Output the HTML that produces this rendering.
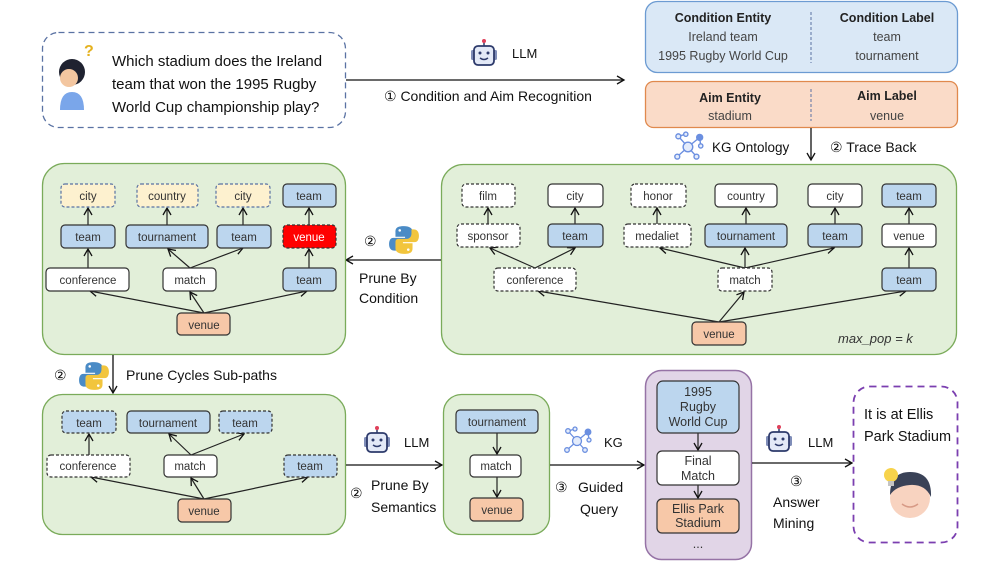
<!DOCTYPE html>
<html><head><meta charset="utf-8"><style>
html,body{margin:0;padding:0;background:#fff;}
svg{display:block;font-family:"Liberation Sans",sans-serif;}
.n{font-size:11.5px;fill:#333;text-anchor:middle;}
.l{font-size:14px;fill:#111;}
</style></head><body>
<svg width="997" height="561" viewBox="0 0 997 561" xmlns="http://www.w3.org/2000/svg">
<defs>
<marker id="a" markerWidth="10" markerHeight="10" refX="8" refY="5" orient="auto" markerUnits="userSpaceOnUse"><path d="M1,1 L8,5 L1,9" fill="none" stroke="#111" stroke-width="1.3"/></marker>
<symbol id="robot" viewBox="0 0 30 30"><line x1="15" y1="3" x2="15" y2="8" stroke="#2d3a6b" stroke-width="1.5"/><circle cx="15" cy="3" r="2" fill="#e0405a"/><rect x="2" y="12" width="4" height="10" rx="1.5" fill="#7f8db8"/><rect x="24" y="12" width="4" height="10" rx="1.5" fill="#7f8db8"/><rect x="5" y="8" width="20" height="19" rx="4" fill="#e3e9f7" stroke="#2d3a6b" stroke-width="1.8"/><circle cx="11" cy="15" r="1.5" fill="#2d3a6b"/><circle cx="19" cy="15" r="1.5" fill="#2d3a6b"/><path d="M11,20 Q15,23 19,20" stroke="#2d3a6b" fill="none" stroke-width="1.5"/></symbol>
<symbol id="py" viewBox="0 0 30 30"><path d="M15,2 C7,2 7,5 7,8 V12 H16 V13 H5 C2,13 1,16 1,19 C1,23 3,25 6,25 H8 V21 C8,18 10,16 13,16 H20 C22,16 23,15 23,13 V7 C23,4 20,2 15,2Z" fill="#4a8bc6"/><path d="M15,28 C23,28 23,25 23,22 V18 H14 V17 H25 C28,17 29,14 29,11 C29,7 27,5 24,5 H22 V9 C22,12 20,14 17,14 H10 C8,14 7,15 7,17 V23 C7,26 10,28 15,28Z" fill="#f2c53d"/><circle cx="11" cy="6" r="1.2" fill="#fff"/><circle cx="19" cy="24" r="1.2" fill="#fff"/></symbol>
<symbol id="kg" viewBox="0 0 30 30"><g stroke="#6b8fe0" stroke-width="1.3" fill="#e4ecfb"><line x1="14" y1="15" x2="5" y2="5"/><line x1="14" y1="15" x2="25" y2="6"/><line x1="14" y1="15" x2="4" y2="24"/><line x1="14" y1="15" x2="22" y2="24"/><line x1="5" y1="5" x2="12" y2="3"/><line x1="25" y1="6" x2="26" y2="14"/><circle cx="14" cy="15" r="4.5"/><circle cx="5" cy="5" r="2.3"/><circle cx="12" cy="3" r="2"/><circle cx="25" cy="6" r="2.8" fill="#6b8fe0"/><circle cx="26" cy="14" r="2"/><circle cx="4" cy="24" r="2.3"/><circle cx="22" cy="24" r="2.3"/></g></symbol>
</defs>

<!-- question -->
<rect x="42.5" y="32.5" width="303" height="95" rx="16" fill="#fff" stroke="#5a72a3" stroke-width="1.3" stroke-dasharray="6,4"/>
<circle cx="72" cy="72" r="13" fill="#1f2230"/>
<circle cx="69" cy="78" r="9" fill="#f3c6a0"/>
<path d="M60,110 Q60,92 72,92 Q84,92 84,110Z" fill="#7aa6ea"/>
<text x="84" y="56" font-size="16" fill="#e5b21f" font-weight="bold">?</text>
<text class="l" x="112" y="66" font-size="15" style="font-size:15px">Which stadium does the Ireland</text>
<text class="l" x="112" y="89" style="font-size:15px">team that won the 1995 Rugby</text>
<text class="l" x="112" y="112" style="font-size:15px">World Cup championship play?</text>

<line x1="346" y1="80" x2="624" y2="80" stroke="#111" stroke-width="1.3" marker-end="url(#a)"/>
<use href="#robot" x="469" y="38" width="30" height="30"/>
<text class="l" x="512" y="58" style="font-size:13px">LLM</text>
<text class="l" x="384" y="101">① Condition and Aim Recognition</text>

<!-- condition -->
<rect x="645.5" y="1.5" width="312" height="71" rx="12" fill="#dae8f6" stroke="#6c9bd2" stroke-width="1.3"/>
<line x1="811" y1="12" x2="811" y2="63" stroke="#5a72a3" stroke-dasharray="3,2"/>
<g text-anchor="middle" font-size="12.5" fill="#222">
<text x="723" y="22" font-weight="bold">Condition Entity</text>
<text x="887" y="22" font-weight="bold">Condition Label</text>
<text x="723" y="41" fill="#444">Ireland team</text>
<text x="723" y="60" fill="#444">1995 Rugby World Cup</text>
<text x="887" y="41" fill="#444">team</text>
<text x="887" y="60" fill="#444">tournament</text>
<rect x="645.5" y="81.5" width="312" height="46" rx="8" fill="#fadbc8" stroke="#e0894d" stroke-width="1.3"/>
<text x="730" y="102" font-weight="bold">Aim Entity</text>
<text x="887" y="100" font-weight="bold">Aim Label</text>
<text x="730" y="120" fill="#444">stadium</text>
<text x="887" y="120" fill="#444">venue</text>
</g>
<line x1="811" y1="89" x2="811" y2="121" stroke="#5a72a3" stroke-dasharray="3,2"/>
<line x1="811" y1="128" x2="811" y2="160" stroke="#111" stroke-width="1.3" marker-end="url(#a)"/>
<use href="#kg" x="673" y="131" width="32" height="32"/>
<text class="l" x="712" y="152" style="font-size:13.5px">KG Ontology</text>
<text class="l" x="830" y="152">② Trace Back</text>

<!-- right panel -->
<rect x="441.5" y="164.5" width="515" height="190" rx="22" fill="#e2efd9" stroke="#7aab5a" stroke-width="1.3"/>
<g stroke="#222" stroke-width="1.2" fill="none" marker-end="url(#a)">
<line x1="488" y1="224" x2="488" y2="208"/><line x1="575" y1="224" x2="575" y2="208"/><line x1="657" y1="224" x2="657" y2="208"/><line x1="746" y1="224" x2="746" y2="208"/><line x1="835" y1="224" x2="835" y2="208"/><line x1="909" y1="224" x2="909" y2="208"/>
<line x1="535" y1="268" x2="490" y2="248"/><line x1="535" y1="268" x2="575" y2="248"/>
<line x1="745" y1="268" x2="660" y2="248"/><line x1="745" y1="268" x2="745" y2="248"/><line x1="745" y1="268" x2="834" y2="248"/>
<line x1="909" y1="268" x2="909" y2="248"/>
<line x1="719" y1="322" x2="538" y2="291"/><line x1="719" y1="322" x2="744" y2="292"/><line x1="719" y1="322" x2="906" y2="291"/>
</g>
<g stroke="#333" stroke-width="1.2">
<rect x="462" y="184" width="53" height="23" rx="4" fill="#fff" stroke-dasharray="3,2"/>
<rect x="548" y="184" width="55" height="23" rx="4" fill="#fff"/>
<rect x="631" y="184" width="55" height="23" rx="4" fill="#fff" stroke-dasharray="3,2"/>
<rect x="715" y="184" width="62" height="23" rx="4" fill="#fff"/>
<rect x="808" y="184" width="54" height="23" rx="4" fill="#fff"/>
<rect x="882" y="184" width="54" height="23" rx="4" fill="#bcd6ee"/>
<rect x="457" y="224" width="63" height="23" rx="4" fill="#fff" stroke-dasharray="3,2"/>
<rect x="548" y="224" width="55" height="23" rx="4" fill="#bcd6ee"/>
<rect x="624" y="224" width="67" height="23" rx="4" fill="#fff" stroke-dasharray="3,2"/>
<rect x="705" y="224" width="82" height="23" rx="4" fill="#bcd6ee"/>
<rect x="808" y="224" width="54" height="23" rx="4" fill="#bcd6ee"/>
<rect x="882" y="224" width="54" height="23" rx="4" fill="#fff"/>
<rect x="494" y="268" width="82" height="23" rx="4" fill="#fff" stroke-dasharray="3,2"/>
<rect x="718" y="268" width="54" height="23" rx="4" fill="#fff" stroke-dasharray="3,2"/>
<rect x="882" y="268" width="54" height="23" rx="4" fill="#bcd6ee"/>
<rect x="692" y="322" width="54" height="23" rx="4" fill="#f7c8a8"/>
</g>
<g class="n">
<text class="n" x="488" y="200">film</text><text class="n" x="575" y="200">city</text><text class="n" x="658" y="200">honor</text><text class="n" x="746" y="200">country</text><text class="n" x="835" y="200">city</text><text class="n" x="909" y="200">team</text>
<text class="n" x="488" y="240">sponsor</text><text class="n" x="575" y="240">team</text><text class="n" x="657" y="240">medaliet</text><text class="n" x="746" y="240">tournament</text><text class="n" x="835" y="240">team</text><text class="n" x="909" y="240">venue</text>
<text class="n" x="535" y="284">conference</text><text class="n" x="745" y="284">match</text><text class="n" x="909" y="284">team</text>
<text class="n" x="719" y="338">venue</text>
</g>
<text x="838" y="343" font-size="13" font-style="italic" fill="#333">max_pop = k</text>

<!-- arrow prune by condition -->
<line x1="441" y1="260" x2="346" y2="260" stroke="#111" stroke-width="1.3" marker-end="url(#a)"/>
<text class="l" x="364" y="246">②</text>
<use href="#py" x="388" y="224" width="32" height="32"/>
<text class="l" x="359" y="283">Prune By</text>
<text class="l" x="359" y="303">Condition</text>

<!-- left panel -->
<rect x="42.5" y="163.5" width="303" height="191" rx="22" fill="#e2efd9" stroke="#7aab5a" stroke-width="1.3"/>
<g stroke="#222" stroke-width="1.2" fill="none" marker-end="url(#a)">
<line x1="88" y1="225" x2="88" y2="208"/><line x1="167" y1="225" x2="167" y2="208"/><line x1="243" y1="225" x2="243" y2="208"/><line x1="309" y1="225" x2="309" y2="208"/>
<line x1="88" y1="268" x2="88" y2="249"/><line x1="190" y1="268" x2="168" y2="249"/><line x1="190" y1="268" x2="243" y2="248"/><line x1="309" y1="268" x2="309" y2="249"/>
<line x1="204" y1="313" x2="90" y2="291"/><line x1="204" y1="313" x2="190" y2="292"/><line x1="204" y1="313" x2="307" y2="291"/>
</g>
<g stroke="#333" stroke-width="1.2">
<rect x="61" y="184" width="54" height="23" rx="4" fill="#fdf1cf" stroke="#5a72a3" stroke-dasharray="3,2"/>
<rect x="137" y="184" width="61" height="23" rx="4" fill="#fdf1cf" stroke="#5a72a3" stroke-dasharray="3,2"/>
<rect x="216" y="184" width="54" height="23" rx="4" fill="#fdf1cf" stroke="#5a72a3" stroke-dasharray="3,2"/>
<rect x="283" y="184" width="53" height="23" rx="4" fill="#bcd6ee"/>
<rect x="61" y="225" width="54" height="23" rx="4" fill="#bcd6ee"/>
<rect x="126" y="225" width="82" height="23" rx="4" fill="#bcd6ee"/>
<rect x="217" y="225" width="54" height="23" rx="4" fill="#bcd6ee"/>
<rect x="283" y="225" width="53" height="23" rx="4" fill="#ff0000" stroke-dasharray="3,2"/>
<rect x="46" y="268" width="83" height="23" rx="4" fill="#fff"/>
<rect x="163" y="268" width="53" height="23" rx="4" fill="#fff"/>
<rect x="283" y="268" width="53" height="23" rx="4" fill="#bcd6ee"/>
<rect x="177" y="313" width="53" height="22" rx="4" fill="#f7c8a8"/>
</g>
<text class="n" x="88" y="200">city</text><text class="n" x="167" y="200">country</text><text class="n" x="243" y="200">city</text><text class="n" x="309" y="200">team</text>
<text class="n" x="88" y="241">team</text><text class="n" x="167" y="241">tournament</text><text class="n" x="244" y="241">team</text><text class="n" x="309" y="241" style="fill:#fff">venue</text>
<text class="n" x="88" y="284">conference</text><text class="n" x="190" y="284">match</text><text class="n" x="309" y="284">team</text>
<text class="n" x="204" y="329">venue</text>

<!-- prune cycles -->
<line x1="113" y1="355" x2="113" y2="393" stroke="#111" stroke-width="1.3" marker-end="url(#a)"/>
<text class="l" x="54" y="380">②</text>
<use href="#py" x="78" y="360" width="32" height="32"/>
<text class="l" x="126" y="380">Prune Cycles Sub-paths</text>

<!-- bottom-left panel -->
<rect x="42.5" y="394.5" width="303" height="140" rx="20" fill="#e2efd9" stroke="#7aab5a" stroke-width="1.3"/>
<g stroke="#222" stroke-width="1.2" fill="none" marker-end="url(#a)">
<line x1="89" y1="455" x2="89" y2="434"/><line x1="191" y1="455" x2="169" y2="434"/><line x1="191" y1="455" x2="244" y2="434"/>
<line x1="204" y1="499" x2="91" y2="477"/><line x1="204" y1="499" x2="191" y2="478"/><line x1="204" y1="499" x2="308" y2="477"/>
</g>
<g stroke="#333" stroke-width="1.2">
<rect x="62" y="411" width="54" height="22" rx="4" fill="#bcd6ee" stroke-dasharray="3,2"/>
<rect x="127" y="411" width="83" height="22" rx="4" fill="#bcd6ee"/>
<rect x="219" y="411" width="53" height="22" rx="4" fill="#bcd6ee" stroke-dasharray="3,2"/>
<rect x="47" y="455" width="83" height="22" rx="4" fill="#fff" stroke-dasharray="3,2"/>
<rect x="164" y="455" width="53" height="22" rx="4" fill="#fff"/>
<rect x="284" y="455" width="53" height="22" rx="4" fill="#bcd6ee" stroke-dasharray="3,2"/>
<rect x="178" y="499" width="53" height="23" rx="4" fill="#f7c8a8"/>
</g>
<text class="n" x="89" y="427">team</text><text class="n" x="168" y="427">tournament</text><text class="n" x="245" y="427">team</text>
<text class="n" x="88" y="470">conference</text><text class="n" x="190" y="470">match</text><text class="n" x="310" y="470">team</text>
<text class="n" x="204" y="515">venue</text>

<line x1="346" y1="465" x2="442" y2="465" stroke="#111" stroke-width="1.3" marker-end="url(#a)"/>
<use href="#robot" x="362" y="425" width="30" height="30"/>
<text class="l" x="404" y="447" style="font-size:13px">LLM</text>
<text class="l" x="350" y="498">②</text>
<text class="l" x="371" y="490">Prune By</text>
<text class="l" x="371" y="512">Semantics</text>

<!-- middle panel -->
<rect x="443.5" y="394.5" width="106" height="140" rx="18" fill="#e2efd9" stroke="#7aab5a" stroke-width="1.3"/>
<g stroke="#222" stroke-width="1.2" marker-end="url(#a)">
<line x1="497" y1="433" x2="497" y2="454"/><line x1="497" y1="477" x2="497" y2="497"/>
</g>
<g stroke="#333" stroke-width="1.2">
<rect x="456" y="410" width="82" height="23" rx="4" fill="#bcd6ee"/>
<rect x="470" y="455" width="51" height="22" rx="4" fill="#fff"/>
<rect x="470" y="498" width="53" height="23" rx="4" fill="#f7c8a8"/>
</g>
<text class="n" x="497" y="426">tournament</text><text class="n" x="496" y="470">match</text><text class="n" x="497" y="514">venue</text>

<line x1="550" y1="465" x2="644" y2="465" stroke="#111" stroke-width="1.3" marker-end="url(#a)"/>
<use href="#kg" x="563" y="426" width="30" height="30"/>
<text class="l" x="604" y="447" style="font-size:13px">KG</text>
<text class="l" x="555" y="492">③</text>
<text class="l" x="578" y="492">Guided</text>
<text class="l" x="580" y="514">Query</text>

<!-- purple panel -->
<rect x="645.5" y="370.5" width="106" height="189" rx="16" fill="#e1d5e7" stroke="#9673a6" stroke-width="1.5"/>
<g stroke="#222" stroke-width="1.2" marker-end="url(#a)">
<line x1="698" y1="433" x2="698" y2="450"/><line x1="698" y1="485" x2="698" y2="498"/>
</g>
<g stroke="#333" stroke-width="1.2">
<rect x="657" y="381" width="82" height="52" rx="6" fill="#bcd6ee"/>
<rect x="657" y="451" width="82" height="34" rx="5" fill="#fff"/>
<rect x="657" y="499" width="82" height="34" rx="5" fill="#f7c8a8"/>
</g>
<g class="n" font-size="12.5">
<text class="n" x="698" y="396" style="font-size:12.5px">1995</text><text class="n" x="698" y="411" style="font-size:12.5px">Rugby</text><text class="n" x="698" y="426" style="font-size:12.5px">World Cup</text>
<text class="n" x="698" y="465" style="font-size:12.5px">Final</text><text class="n" x="698" y="480" style="font-size:12.5px">Match</text>
<text class="n" x="698" y="513" style="font-size:12.5px">Ellis Park</text><text class="n" x="698" y="527" style="font-size:12.5px">Stadium</text>
<text class="n" x="698" y="548" style="font-size:12.5px">...</text>
</g>

<line x1="752" y1="463" x2="852" y2="463" stroke="#111" stroke-width="1.3" marker-end="url(#a)"/>
<use href="#robot" x="764" y="424" width="30" height="30"/>
<text class="l" x="808" y="447" style="font-size:13px">LLM</text>
<text class="l" x="790" y="486">③</text>
<text class="l" x="773" y="507">Answer</text>
<text class="l" x="773" y="528">Mining</text>

<!-- answer -->
<rect x="853.5" y="386.5" width="104" height="156" rx="16" fill="#fff" stroke="#7b3fb0" stroke-width="1.8" stroke-dasharray="7,5"/>
<text class="l" x="864" y="419" style="font-size:14.5px">It is at Ellis</text>
<text class="l" x="864" y="441" style="font-size:14.5px">Park Stadium</text>
<circle cx="910" cy="498" r="20" fill="#f8d3c0"/>
<path d="M890,495 Q890,472 910,472 Q932,472 931,497 Q925,484 910,485 Q896,486 890,495Z" fill="#3a4257"/>
<circle cx="891" cy="475" r="7" fill="#f7d34b"/>
<rect x="888" y="481" width="6" height="5" fill="#c4c4c4"/>
<path d="M902,504 Q910,510 918,504" stroke="#d79a86" fill="none" stroke-width="1.5"/>
</svg>
</body></html>
